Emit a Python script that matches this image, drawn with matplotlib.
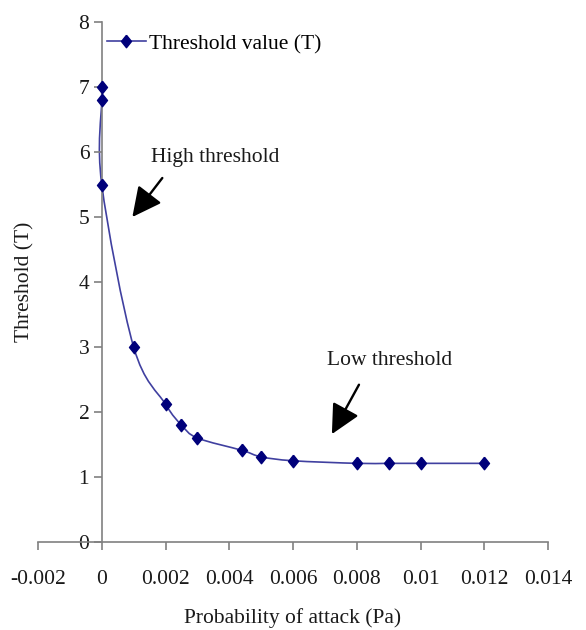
import numpy as np
import matplotlib
matplotlib.use('Agg')
import matplotlib.pyplot as plt
from matplotlib.path import Path
from matplotlib.patches import PathPatch

## data
pa = [0, 0, 0, 0.001, 0.002, 0.0025, 0.003, 0.0044, 0.005, 0.006,
      0.008, 0.009, 0.01, 0.012]
thr = [7.0, 6.8, 5.5, 3.0, 2.12, 1.8, 1.6, 1.41, 1.31, 1.25,
       1.21, 1.21, 1.21, 1.21]
xticks = [-0.002, 0, 0.002, 0.004, 0.006, 0.008, 0.01, 0.012, 0.014]
xticklabels = ['-0.002', '0', '0.002', '0.004', '0.006', '0.008', '0.01', '0.012', '0.014']
yticks = [0, 1, 2, 3, 4, 5, 6, 7, 8]

plt.rcParams['font.family'] = ['Liberation Serif', 'DejaVu Serif']
fs = 15.5
navy = '#00007a'
linec = '#4040a0'
grey = '#808080'


def smooth_path(x, y):
    ## excel-like smoothed line: cubic bezier through the points
    pts = np.column_stack([x, y])
    n = len(pts)
    verts = [pts[0]]
    codes = [Path.MOVETO]
    for i in range(n - 1):
        p0 = pts[max(i - 1, 0)]
        p1 = pts[i]
        p2 = pts[i + 1]
        p3 = pts[min(i + 2, n - 1)]
        c1 = p1 + (p2 - p0) / 6
        c2 = p2 - (p3 - p1) / 6
        verts += [c1, c2, p2]
        codes += [Path.CURVE4] * 3
    return Path(verts, codes)


fig = plt.figure(figsize=(5.86, 6.3), dpi=100)
ax = fig.add_axes([38 / 586, 1 - 542 / 630, 510 / 586, 520 / 630])

ax.add_patch(PathPatch(smooth_path(pa, thr), fill=False, edgecolor=linec, lw=1.2))
diamond = [(0, 1), (0.8, 0), (0, -1), (-0.8, 0), (0, 1)]
ax.plot(pa, thr, linestyle='none', marker=diamond, markersize=9,
        color=navy, zorder=3)

## legend handle: line + marker
ax.plot([], [], color=linec, lw=1.2, marker=diamond, markersize=9,
        markerfacecolor=navy, markeredgecolor=navy, label='Threshold value (T)')
ax.legend(loc='upper left', bbox_to_anchor=(0.135, 0.977), frameon=False,
          fontsize=fs, borderpad=0, borderaxespad=0, handlelength=1.8,
          handletextpad=0.15, markerscale=1.0)

ax.set_xlim(-0.002, 0.014)
ax.set_ylim(0, 8)
ax.set_xticks(xticks)
ax.set_xticklabels(xticklabels)
ax.set_yticks(yticks)

ax.spines['left'].set_position(('data', 0))
ax.spines['top'].set_visible(False)
ax.spines['right'].set_visible(False)
for s in ['left', 'bottom']:
    ax.spines[s].set_color(grey)
    ax.spines[s].set_linewidth(1.2)
ax.tick_params(axis='both', colors=grey, labelcolor='#1a1a1a', labelsize=fs,
               direction='out', length=6, width=1.2)
ax.tick_params(axis='x', pad=14)
ax.tick_params(axis='y', pad=3)

ax.set_xlabel('Probability of attack (Pa)', fontsize=fs, color='#1a1a1a')
ax.set_ylabel('Threshold (T)', fontsize=fs, color='#1a1a1a')
ax.xaxis.set_label_coords(0.5, -0.127)
ax.yaxis.set_label_coords(-0.006, 0.5)

## annotations
arrow = dict(arrowstyle='-|>,head_length=1.0,head_width=0.5', color='black',
             lw=1.7, mutation_scale=18, shrinkA=0, shrinkB=0)
ax.annotate('', xy=(0.00096, 5.0), xytext=(0.0019, 5.6), arrowprops=arrow)
ax.annotate('', xy=(0.00722, 1.66), xytext=(0.00807, 2.42), arrowprops=arrow)
ax.text(0.00155, 5.91, 'High threshold', fontsize=fs, va='center', ha='left',
        color='#1a1a1a')
ax.text(0.00707, 2.8, 'Low threshold', fontsize=fs, va='center', ha='left',
        color='#1a1a1a')

fig.savefig('out.png', dpi=100)
